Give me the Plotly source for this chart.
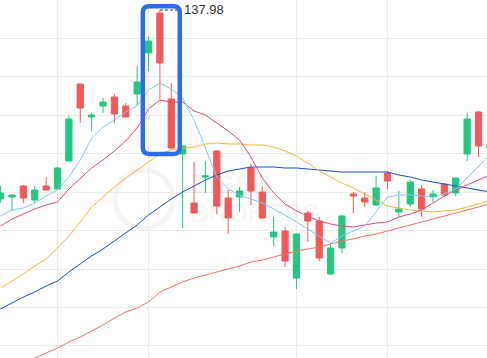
import plotly.graph_objects as go

# ---- data ----
days = list(range(44))

open_ = [128.53, 128.63, 129.18, 128.48, 129.18, 129.03, 130.43, 134.28, 132.63, 133.18,
         133.63, 133.18, 133.78, 135.83, 137.83, 133.53, 130.78, 128.33, 129.63, 130.93,
         128.58, 128.63, 130.08, 128.88, 126.63, 126.93, 124.58, 127.83, 127.43, 124.78,
         126.08, 128.78, 128.58, 128.23, 129.83, 127.88, 128.28, 129.03, 128.63, 129.28,
         128.83, 130.78, 132.88, 131.08]
high = [129.18, 128.78, 129.23, 129.18, 129.63, 130.13, 132.73, 134.28, 132.83, 133.58,
        133.78, 133.33, 135.18, 136.68, 137.98, 134.33, 131.18, 130.38, 130.43, 130.98,
        128.98, 129.13, 130.28, 129.18, 127.63, 127.13, 126.83, 127.93, 127.63, 126.33,
        127.73, 128.88, 128.88, 129.68, 129.93, 128.93, 129.48, 129.23, 128.98, 129.33,
        129.58, 132.83, 132.93, 131.48]
low = [128.33, 127.93, 128.33, 128.33, 128.98, 129.03, 130.43, 132.33, 131.93, 132.83,
       132.33, 132.63, 133.18, 134.93, 133.53, 130.98, 127.08, 127.83, 128.83, 127.78,
       126.78, 127.88, 128.23, 127.53, 126.18, 125.13, 124.03, 126.38, 125.43, 124.73,
       125.83, 127.83, 128.13, 128.18, 129.03, 127.63, 128.13, 127.63, 128.38, 128.63,
       128.68, 130.43, 130.63, 130.98]
close = [128.83, 128.73, 128.58, 128.98, 128.98, 130.08, 132.53, 133.08, 132.73, 133.38,
         132.78, 132.63, 134.38, 136.43, 135.33, 131.08, 131.18, 127.83, 129.68, 128.18,
         127.58, 128.93, 128.93, 127.58, 126.88, 125.43, 126.78, 127.43, 125.58, 126.08,
         127.68, 128.68, 128.38, 129.08, 129.43, 128.03, 129.38, 128.03, 128.78, 128.73,
         129.58, 132.53, 131.18, 131.23]

ma5 = [127.68, 127.98, 128.08, 128.33, 128.68, 128.98, 129.63, 130.48, 131.58, 132.13,
       132.48, 132.88, 133.18, 133.98, 134.33, 134.03, 133.58, 132.48, 131.08, 129.63,
       129.03, 128.73, 128.53, 128.33, 128.03, 127.73, 127.38, 127.03, 126.68, 126.33,
       126.68, 126.93, 127.18, 127.88, 128.63, 128.73, 128.73, 128.68, 128.63, 128.78,
       129.03, 129.58, 130.18, 130.73]
ma10 = [127.18, 127.53, 127.78, 128.03, 128.23, 128.38, 129.03, 129.58, 130.08, 130.48,
        130.93, 131.43, 132.08, 133.03, 133.48, 133.38, 133.38, 132.93, 132.73, 132.33,
        131.93, 131.48, 130.63, 129.58, 128.83, 128.28, 127.93, 127.68, 127.43, 127.28,
        127.18, 127.13, 127.23, 127.33, 127.38, 127.63, 127.78, 127.98, 128.33, 128.68,
        128.98, 129.23, 129.48, 129.73]
ma20 = [124.08, 124.43, 124.78, 125.18, 125.53, 126.08, 126.68, 127.38, 128.13, 128.63,
        129.13, 129.58, 129.98, 130.38, 130.78, 130.98, 131.08, 131.13, 131.28, 131.33,
        131.28, 131.28, 131.23, 131.23, 131.13, 130.93, 130.68, 130.33, 129.93, 129.63,
        129.33, 129.08, 128.78, 128.48, 128.18, 128.08, 127.98, 127.93, 127.88, 127.93,
        127.98, 128.13, 128.28, 128.48]
ma30 = [123.03, 123.33, 123.63, 123.88, 124.18, 124.43, 124.88, 125.28, 125.68, 126.03,
        126.43, 126.83, 127.23, 127.73, 128.13, 128.53, 128.88, 129.18, 129.48, 129.73,
        129.93, 130.03, 130.13, 130.13, 130.13, 130.08, 130.08, 130.03, 129.98, 129.93,
        129.88, 129.88, 129.88, 129.88, 129.88, 129.73, 129.63, 129.48, 129.38, 129.28,
        129.18, 129.08, 128.98, 128.88]
ma60 = [119.98, 120.18, 120.38, 120.58, 120.83, 121.08, 121.38, 121.63, 121.93, 122.23,
        122.58, 122.88, 123.08, 123.38, 123.88, 124.13, 124.38, 124.58, 124.73, 124.88,
        125.03, 125.18, 125.38, 125.48, 125.63, 125.78, 125.93, 126.03, 126.13, 126.28,
        126.43, 126.53, 126.68, 126.78, 126.93, 127.08, 127.23, 127.38, 127.53, 127.68,
        127.83, 127.98, 128.13, 128.28]

high_label = "137.98"
month_starts = [5, 13, 26, 34]

GREEN = "#26C67F"
RED = "#F25A5A"

fig = go.Figure()
fig.add_trace(go.Candlestick(
    x=days, open=open_, high=high, low=low, close=close,
    increasing=dict(line=dict(color=GREEN, width=1), fillcolor=GREEN),
    decreasing=dict(line=dict(color=RED, width=1), fillcolor=RED),
    whiskerwidth=0, hoverinfo="skip", showlegend=False,
))

for vals, col in [(ma60, "#F8705E"), (ma30, "#1550C8"), (ma20, "#F4B73A"),
                  (ma10, "#E5497C"), (ma5, "#82C9F4")]:
    fig.add_trace(go.Scatter(x=days, y=vals, mode="lines",
                             line=dict(color=col, width=1),
                             hoverinfo="skip", showlegend=False))

# highlight box around candles 13-15 (rounded corners)
x0, x1 = 12.5, 15.75
y0, y1 = 130.78, 138.165
rx, ry = 0.55, 0.32
path = (f"M {x0+rx},{y1} L {x1-rx},{y1} Q {x1},{y1} {x1},{y1-ry} "
        f"L {x1},{y0+ry} Q {x1},{y0} {x1-rx},{y0} "
        f"L {x0+rx},{y0} Q {x0},{y0} {x0},{y0+ry} "
        f"L {x0},{y1-ry} Q {x0},{y1} {x0+rx},{y1} Z")

hi_idx = high.index(max(high))
shapes = [
    dict(type="line", xref="x", yref="y", x0=hi_idx, x1=hi_idx + 1.55,
         y0=max(high), y1=max(high), line=dict(color="#333333", width=1, dash="3px,2px")),
    dict(type="path", xref="x", yref="y", path=path,
         line=dict(color="#2F6BF0", width=4.5), fillcolor="rgba(0,0,0,0)"),
    # faint watermark logo circle
    dict(type="circle", xref="paper", yref="paper", layer="below",
         x0=115/487, x1=173/487, y0=1-228/358, y1=1-170/358,
         line=dict(color="rgba(0,0,0,0.045)", width=5)),
]

annotations = [
    dict(x=hi_idx, y=max(high), xref="x", yref="y", text=high_label, showarrow=False,
         xanchor="left", yanchor="middle", xshift=22, yshift=1,
         font=dict(family="Liberation Sans, Arial", size=13, color="#333333")),
    dict(x=190/487, y=1-184/358, xref="paper", yref="paper", text="<b>TIGER</b>",
         showarrow=False, xanchor="left", yanchor="middle",
         font=dict(family="Liberation Sans, Arial", size=26, color="rgba(0,0,0,0.045)")),
    dict(x=188/487, y=1-213/358, xref="paper", yref="paper", text="<b>BROKERS</b>",
         showarrow=False, xanchor="left", yanchor="middle",
         font=dict(family="Liberation Sans, Arial", size=26, color="rgba(0,0,0,0.045)")),
]

fig.update_layout(
    width=487, height=358,
    margin=dict(l=0, r=0, t=0, b=0),
    paper_bgcolor="white", plot_bgcolor="white",
    shapes=shapes, annotations=annotations,
    boxgap=0.22,
    hovermode=False,
    xaxis=dict(range=[-0.053, 42.746], rangeslider=dict(visible=False),
               tickmode="array", tickvals=month_starts, showticklabels=False,
               showgrid=True, gridcolor="#EBEBEB", gridwidth=1,
               zeroline=False, showline=False, ticks=""),
    yaxis=dict(range=[120.58, 138.48], tick0=136.565, dtick=1.9225,
               showticklabels=False, showgrid=True, gridcolor="#EBEBEB", gridwidth=1,
               zeroline=False, showline=False, ticks=""),
)

fig.write_html("out.html", config={"displayModeBar": False},
               post_script="document.body.style.margin='0px';document.body.style.overflow='hidden';")
